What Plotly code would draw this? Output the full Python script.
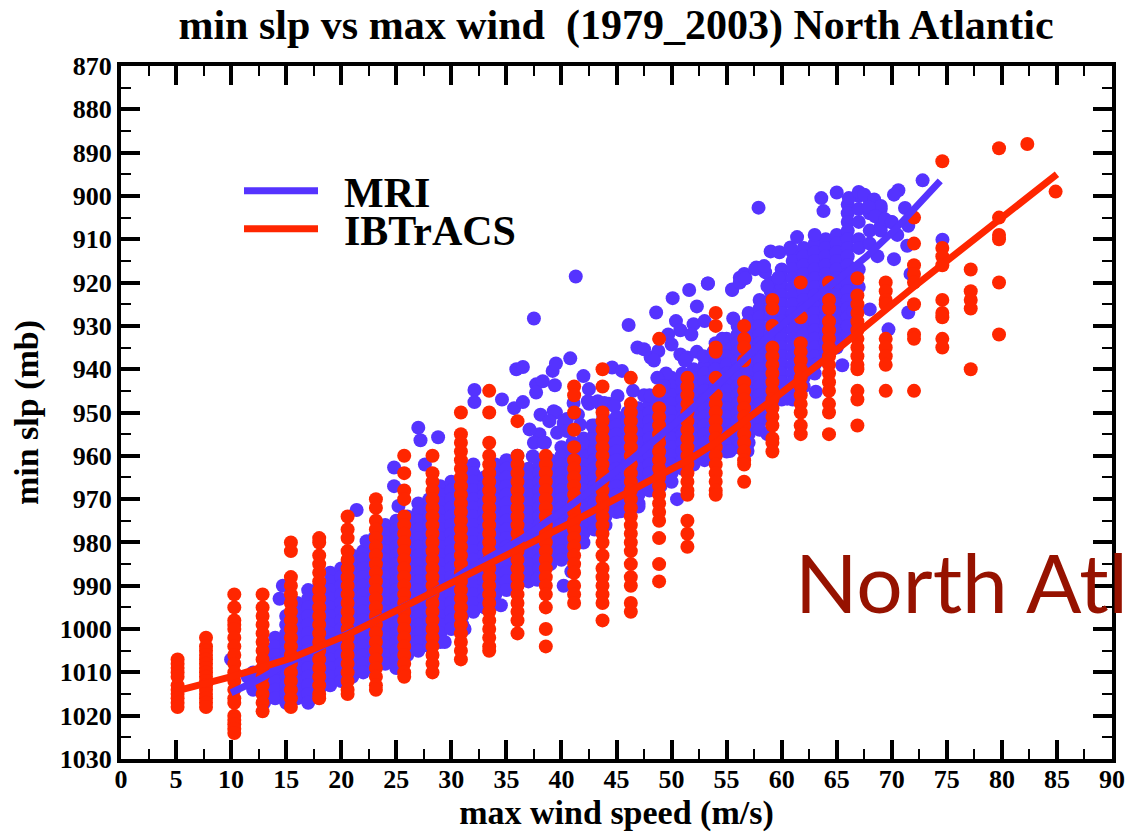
import plotly.graph_objects as go

TITLE = "min slp vs max wind\u00a0\u00a0(1979_2003) North Atlantic"
X_LABEL = "max wind speed (m/s)"
Y_LABEL = "min slp (mb)"
OVERLAY = "North Atl"
BLUE = "#5533FF"
RED = "#FF2600"

MRI_COL_WIND = [12, 13, 14, 15, 16, 17, 18, 19, 20, 21, 22, 23, 24, 25, 26, 27, 28, 29, 30, 31, 32, 33, 34, 35, 36, 37,
                38, 39, 40, 41, 42, 43, 44, 45, 46, 47, 48, 49, 50, 51, 52, 53, 54, 55, 56, 57, 58, 59, 60, 61, 62, 63,
                64, 65, 66, 67, 68, 69, 70]
MRI_COL_SLP = [
    [1010, 1012, 1014],
    [1005, 1007, 1009, 1011, 1013, 1015, 1017],
    [1002, 1004, 1006, 1008, 1010, 1012, 1014, 1016],
    [997, 999, 1001, 1003, 1005, 1007, 1009, 1011, 1013, 1015, 1017],
    [994, 996, 998, 1000, 1002, 1004, 1006, 1008, 1010, 1012, 1014, 1016],
    [991, 993, 995, 997, 999, 1001, 1003, 1005, 1007, 1009, 1011, 1013, 1015, 1017],
    [990, 992, 994, 996, 998, 1000, 1002, 1004, 1006, 1008, 1010, 1012, 1014],
    [987, 989, 991, 993, 995, 997, 999, 1001, 1003, 1005, 1007, 1009, 1011, 1013],
    [986, 988, 990, 992, 994, 996, 998, 1000, 1002, 1004, 1006, 1008, 1010, 1012],
    [983, 985, 987, 989, 991, 993, 995, 997, 999, 1001, 1003, 1005, 1007, 1009, 1011],
    [982, 984, 986, 988, 990, 992, 994, 996, 998, 1000, 1002, 1004, 1006, 1008, 1010],
    [979, 981, 983, 985, 987, 989, 991, 993, 995, 997, 999, 1001, 1003, 1005, 1007, 1009],
    [976, 978, 980, 982, 984, 986, 988, 990, 992, 994, 996, 998, 1000, 1002, 1004, 1006, 1008],
    [975, 977, 979, 981, 983, 985, 987, 989, 991, 993, 995, 997, 999, 1001, 1003, 1005, 1007, 1009],
    [974, 976, 978, 980, 982, 984, 986, 988, 990, 992, 994, 996, 998, 1000, 1002, 1004, 1006],
    [971, 973, 975, 977, 979, 981, 983, 985, 987, 989, 991, 993, 995, 997, 999, 1001, 1003, 1005],
    [970, 972, 974, 976, 978, 980, 982, 984, 986, 988, 990, 992, 994, 996, 998, 1000, 1002, 1004],
    [967, 969, 971, 973, 975, 977, 979, 981, 983, 985, 987, 989, 991, 993, 995, 997, 999, 1001, 1003],
    [966, 968, 970, 972, 974, 976, 978, 980, 982, 984, 986, 988, 990, 992, 994, 996, 998, 1000],
    [963, 965, 967, 969, 971, 973, 975, 977, 979, 981, 983, 985, 987, 989, 991, 993, 995, 997, 999],
    [962, 964, 966, 968, 970, 972, 974, 976, 978, 980, 982, 984, 986, 988, 990, 992, 994, 996],
    [965, 967, 969, 971, 973, 975, 977, 979, 981, 983, 985, 987, 989, 991, 993, 995],
    [962, 964, 966, 968, 970, 972, 974, 976, 978, 980, 982, 984, 986, 988, 990, 992, 994],
    [961, 963, 965, 967, 969, 971, 973, 975, 977, 979, 981, 983, 985, 987, 989, 991],
    [960, 962, 964, 966, 968, 970, 972, 974, 976, 978, 980, 982, 984, 986, 988, 990],
    [963, 965, 967, 969, 971, 973, 975, 977, 979, 981, 983, 985, 987, 989],
    [962, 964, 966, 968, 970, 972, 974, 976, 978, 980, 982, 984, 986, 988],
    [961, 963, 965, 967, 969, 971, 973, 975, 977, 979, 981, 983, 985],
    [958, 960, 962, 964, 966, 968, 970, 972, 974, 976, 978, 980, 982, 984],
    [957, 959, 961, 963, 965, 967, 969, 971, 973, 975, 977, 979, 981, 983],
    [956, 958, 960, 962, 964, 966, 968, 970, 972, 974, 976, 978, 980],
    [953, 955, 957, 959, 961, 963, 965, 967, 969, 971, 973, 975, 977],
    [952, 954, 956, 958, 960, 962, 964, 966, 968, 970, 972, 974, 976],
    [951, 953, 955, 957, 959, 961, 963, 965, 967, 969, 971, 973],
    [950, 952, 954, 956, 958, 960, 962, 964, 966, 968, 970, 972],
    [949, 951, 953, 955, 957, 959, 961, 963, 965, 967, 969, 971],
    [946, 948, 950, 952, 954, 956, 958, 960, 962, 964, 966, 968],
    [945, 947, 949, 951, 953, 955, 957, 959, 961, 963, 965, 967],
    [942, 944, 946, 948, 950, 952, 954, 956, 958, 960, 962, 964, 966],
    [941, 943, 945, 947, 949, 951, 953, 955, 957, 959, 961, 963],
    [940, 942, 944, 946, 948, 950, 952, 954, 956, 958, 960, 962],
    [939, 941, 943, 945, 947, 949, 951, 953, 955, 957, 959, 961],
    [934, 936, 938, 940, 942, 944, 946, 948, 950, 952, 954, 956, 958, 960],
    [933, 935, 937, 939, 941, 943, 945, 947, 949, 951, 953, 955, 957, 959],
    [930, 932, 934, 936, 938, 940, 942, 944, 946, 948, 950, 952, 954, 956, 958],
    [927, 929, 931, 933, 935, 937, 939, 941, 943, 945, 947, 949, 951, 953, 955, 957],
    [924, 926, 928, 930, 932, 934, 936, 938, 940, 942, 944, 946, 948, 950, 952, 954],
    [920, 922, 924, 926, 928, 930, 932, 934, 936, 938, 940, 942, 944, 946, 948, 950, 952],
    [917, 919, 921, 923, 925, 927, 929, 931, 933, 935, 937, 939, 941, 943, 945, 947],
    [913, 915, 917, 919, 921, 923, 925, 927, 929, 931, 933, 935, 937, 939, 941, 943, 945, 947],
    [912, 914, 916, 918, 920, 922, 924, 926, 928, 930, 932, 934, 936, 938, 940, 942, 944],
    [911, 913, 915, 917, 919, 921, 923, 925, 927, 929, 931, 933, 935, 937, 939, 941],
    [910, 912, 914, 916, 918, 920, 922, 924, 926, 928, 930, 932, 934, 936, 938],
    [909, 911, 913, 915, 917, 919, 921, 923, 925, 927, 929, 931, 933, 935],
    [902, 904, 906, 908, 910, 912, 914, 916, 918, 920, 922, 924, 926, 928, 930, 932],
    [900, 903, 906, 910, 912, 917, 921],
    [901, 904, 908, 911],
    [903, 907],
    [906],
]

MRI_LONE_WIND = [10.0, 11.5, 14.7, 14.4, 21.4, 22.3, 24.8, 24.8, 25.2, 27.0, 27.2, 27.6, 28.8, 32.1, 32.1, 34.6, 35.7,
                 36.5, 35.9, 36.5, 39.2, 39.5, 40.8, 37.7, 38.3, 37.7, 39.4, 42.0, 42.5, 41.3, 37.5, 46.1, 48.6, 50.1,
                 51.6, 53.3, 52.3, 50.4, 50.8, 52.0, 51.8, 53.0, 46.9, 47.5, 48.1, 48.8, 48.4, 49.7, 50.0, 50.8, 51.4,
                 52.3, 52.9, 44.6, 45.5, 55.5, 56.2, 56.6, 57.7, 58.5, 55.6, 58.7, 59.7, 57.9, 63.6, 63.8, 65.0, 66.1,
                 67.0, 67.5, 68.4, 69.0, 70.6, 70.2, 72.8, 71.2, 71.5, 70.5, 71.4, 69.0, 68.7, 70.2, 74.6, 71.7, 68.0,
                 71.5, 66.5, 69.7, 66.0, 65.5, 63.1, 60.5, 53.3, 55.5, 56.2, 56.7, 57.6, 58.4, 59.0, 59.8, 60.8, 61.4,
                 63.0, 39.5, 40.5, 41.5, 42.5, 43.5, 44.3, 38.0, 38.5, 40.2, 40.9, 31.2, 29.4, 34.5, 45.4, 47.0, 50.5,
                 55.3, 56.9, 58.7, 37.8, 42.8, 43.8, 46.5, 47.5, 49.5, 51.2, 53.8, 54.6,
                 37.1, 37.5, 37.4, 38.4, 38.1, 39.3, 38.9, 39.6, 40.2, 40.5, 41.7, 41.1, 42.4, 43.3, 43.9, 45.1, 44.8,
                 47.6, 48.7, 49.3, 48.1, 42.8, 41.9, 67.9, 68.5, 69.4, 70.0]
MRI_LONE_SLP = [1007, 1011, 990, 993, 972.5, 979.7, 962.7, 967, 971.6, 953.5, 956.4, 962, 955.7, 944.8, 947.6, 947, 949,
                947.6, 940, 939.5, 940.4, 938.7, 937.5, 943.5, 942.8, 945.4, 943.7, 941.6, 944.6, 918.6, 928.3, 929.8,
                926.9, 923.6, 921.7, 920.2, 925.5, 928.9, 931, 929.6, 932, 928.9, 935, 935.4, 937.3, 935.8, 938, 932,
                934.3, 936.6, 937.3, 936, 937, 939.6, 940.4, 921.6, 918.9, 918, 916.5, 917.6, 928.3, 920.8, 918.9,
                902.7, 900.5, 903.5, 899.2, 900.5, 899.1, 899.7, 900.8, 902.3, 898.7, 899.7, 896.4, 902.8, 906.9, 909,
                911.5, 908, 913.9, 914.6, 910.1, 918, 926.2, 926.9, 926.6, 930.8, 930, 939.1, 945.2, 946.8, 920.2,
                921.7, 920, 919, 916.9, 916.2, 912.8, 913, 911.9, 909.5, 909, 950, 951.5, 950.5, 948, 948, 948, 955,
                957, 990, 986.7, 1000, 1003, 994.5, 972.8, 971.7, 970, 958.9, 958.9, 955, 988.6, 953, 951, 945, 946,
                941, 938, 936, 933,
                953.9, 957, 960.1, 957, 950.5, 949.7, 952, 954.7, 952.4, 954.3, 952.8, 947.8, 947.4, 947.4, 947.8,
                946.2, 948.5, 946.2, 942, 943.9, 946.2, 956.2, 957, 902.6, 904.7, 905.4, 906.1]

IB_COL_WIND = [5.14, 7.72, 10.29, 12.86, 15.43, 18.0, 20.58, 23.15, 25.72, 28.29, 30.87, 33.44, 36.01, 38.58, 41.15,
               43.73, 46.3, 48.87, 51.44, 54.01, 56.59, 59.16, 61.73, 64.3, 66.88, 69.45, 72.02, 74.59, 77.17, 79.74,
               82.31, 84.88]
IB_COL_SLP = [
    [1007, 1008, 1009, 1010, 1011, 1013, 1014, 1015, 1016, 1017, 1018],
    [1002, 1004, 1005, 1006, 1007, 1008, 1009, 1010, 1011, 1012, 1013, 1014, 1015, 1016, 1017, 1018],
    [992, 995, 998, 999, 1000, 1002, 1004, 1006, 1008, 1010, 1012, 1014, 1016, 1017, 1020, 1021, 1022, 1023, 1024],
    [992, 995, 997, 999, 1001, 1003, 1005, 1007, 1009, 1011, 1013, 1015, 1017, 1019],
    [980, 982, 988, 990, 992, 994, 996, 998, 1000, 1002, 1004, 1006, 1008, 1010, 1012, 1014, 1016, 1018],
    [979, 980, 983, 985, 987, 989, 991, 993, 995, 997, 999, 1001, 1003, 1005, 1007, 1009, 1011, 1013, 1015, 1016],
    [974, 977, 979, 982, 984, 986, 988, 990, 992, 994, 996, 998, 1000, 1002, 1004, 1006, 1008, 1010, 1012, 1014, 1015],
    [970, 972, 975, 977, 979, 981, 983, 985, 987, 989, 991, 993, 995, 997, 999, 1001, 1003, 1005, 1007, 1009, 1011,
     1013, 1014],
    [960, 964, 968, 970, 974, 976, 978, 980, 982, 984, 986, 988, 990, 992, 994, 996, 998, 1000, 1002, 1004, 1006,
     1008, 1010, 1011],
    [960, 964, 966, 968, 970, 972, 974, 976, 978, 980, 982, 984, 986, 988, 990, 992, 994, 996, 998, 1000, 1002, 1004,
     1006, 1008, 1010],
    [950, 955, 957, 959, 961, 963, 965, 967, 969, 971, 973, 975, 977, 979, 981, 983, 985, 987, 989, 991, 993, 995,
     997, 999, 1001, 1003, 1005, 1007],
    [945, 950, 957, 960, 962, 964, 966, 968, 970, 972, 974, 976, 978, 980, 982, 984, 986, 988, 990, 992, 994, 996,
     998, 1000, 1002, 1004, 1005],
    [952, 960, 962, 964, 966, 968, 970, 972, 974, 976, 978, 980, 982, 984, 986, 988, 990, 992, 994, 996, 998, 1001],
    [960, 962, 964, 966, 968, 970, 972, 974, 976, 978, 980, 982, 984, 986, 988, 990, 992, 995, 1000, 1004],
    [944, 946, 950, 954, 958, 961, 963, 965, 967, 969, 971, 973, 975, 977, 979, 981, 983, 985, 987, 990, 992, 994],
    [940, 944, 950, 952, 954, 956, 958, 960, 962, 964, 966, 968, 970, 972, 974, 976, 978, 980, 983, 986, 988, 990,
     992, 994, 998],
    [942, 948, 950, 952, 954, 956, 958, 960, 962, 964, 966, 968, 970, 972, 974, 976, 978, 980, 982, 985, 988, 990,
     994, 996],
    [933, 945, 949, 951, 953, 955, 957, 959, 961, 963, 965, 967, 969, 971, 973, 975, 979, 985, 989],
    [942, 944, 946, 948, 950, 952, 954, 956, 958, 960, 962, 964, 966, 968, 969, 975, 978, 981],
    [927, 930, 935, 936, 942, 946, 948, 950, 952, 954, 956, 958, 960, 962, 964, 966, 968, 969],
    [930, 933, 935, 938, 943, 945, 947, 949, 951, 953, 955, 957, 959, 961, 962, 966],
    [924, 926, 930, 935, 937, 939, 941, 943, 945, 947, 949, 951, 953, 956, 957, 959],
    [920, 928, 934, 936, 938, 940, 942, 944, 946, 948, 950, 953, 955],
    [920, 924, 926, 929, 931, 933, 935, 937, 939, 941, 943, 945, 948, 950, 955],
    [919, 923, 925, 927, 929, 931, 933, 935, 937, 939, 940, 945, 947, 953],
    [920, 922, 924, 925, 933, 935, 937, 939, 945],
    [905, 911, 916, 918, 920, 925, 932, 933, 945],
    [892, 912, 914, 916, 924, 927, 928, 933, 935],
    [917, 922, 924, 926, 940],
    [889, 905, 909, 910, 920, 932],
    [888],
    [899],
]

MRI_FIT_WIND = [10, 12.8, 15, 23, 28.3, 31.5, 36.2, 41.1, 46.3, 51.5, 56.6, 59.2, 67.7, 70.2, 74.4]
MRI_FIT_SLP = [1014.7, 1011.3, 1008, 998.2, 991.6, 986.3, 979.5, 971, 961, 950, 938, 931.5, 914, 908, 896.5]
IB_FIT_WIND = [5.5, 10.3, 15.5, 20.6, 25.4, 30.9, 41.2, 51.5, 54, 59.2, 64.3, 72, 79.8, 85]
IB_FIT_SLP = [1014, 1010.8, 1006.7, 1001.3, 995.2, 988.2, 975, 961, 957, 947, 937, 921, 905.4, 895]

X_TICKS = [0, 5, 10, 15, 20, 25, 30, 35, 40, 45, 50, 55, 60, 65, 70, 75, 80, 85, 90]
Y_TICKS = [870, 880, 890, 900, 910, 920, 930, 940, 950, 960, 970, 980, 990, 1000, 1010, 1020, 1030]


def flatten(winds, columns):
    xs, ys = [], []
    for w, col in zip(winds, columns):
        for p in col:
            xs.append(w)
            ys.append(p)
    return xs, ys


mx, my = flatten(MRI_COL_WIND, MRI_COL_SLP)
ix, iy = flatten(IB_COL_WIND, IB_COL_SLP)
serif = "Liberation Serif"
marker_size = 14
L, R, T, B = 121, 18, 66, 76
PW, PH = 1130 - L - R, 835 - T - B

fig = go.Figure()
fig.add_trace(go.Scatter(x=mx + MRI_LONE_WIND, y=my + MRI_LONE_SLP, mode="markers", showlegend=False,
                         marker=dict(color=BLUE, size=marker_size), cliponaxis=False))
fig.add_trace(go.Scatter(x=ix, y=iy, mode="markers", showlegend=False,
                         marker=dict(color=RED, size=marker_size), cliponaxis=False))
fig.add_trace(go.Scatter(x=MRI_FIT_WIND, y=MRI_FIT_SLP, mode="lines", name="\u00a0\u00a0MRI", legend="legend",
                         line=dict(color=BLUE, width=7)))
fig.add_trace(go.Scatter(x=IB_FIT_WIND, y=IB_FIT_SLP, mode="lines", name="\u00a0\u00a0IBTrACS", legend="legend2",
                         line=dict(color=RED, width=7)))

axis_common = dict(automargin=False, showgrid=False, zeroline=False, showline=True, linecolor="black", linewidth=4,
                   mirror="ticks", ticks="inside", ticklen=19, tickwidth=4, tickcolor="black",
                   tickfont=dict(family=serif, size=26, color="black", weight=700))
fig.update_xaxes(range=[0, 90], tickmode="array", tickvals=X_TICKS, ticklabelstandoff=-6,
                 title=dict(text=X_LABEL, standoff=6, font=dict(family=serif, size=34, color="black", weight=700)),
                 minor=dict(ticks="inside", ticklen=10, tickwidth=1.5, tickcolor="black", dtick=2.5, tick0=0),
                 **axis_common)
fig.update_yaxes(range=[1030, 870], tickmode="array", tickvals=Y_TICKS,
                 title=dict(text=Y_LABEL, standoff=12, font=dict(family=serif, size=34, color="black", weight=700)),
                 minor=dict(ticks="inside", ticklen=10, tickwidth=1.5, tickcolor="black", dtick=5, tick0=870),
                 **axis_common)
leg = dict(xanchor="left", yanchor="middle", bgcolor="rgba(0,0,0,0)", itemwidth=74,
           font=dict(family=serif, size=42, color="black", weight=700))
fig.update_layout(
    width=1130, height=835, paper_bgcolor="white", plot_bgcolor="white",
    margin=dict(l=L, r=R, t=T, b=B),
    title=dict(text=TITLE, x=616 / 1130, xanchor="center", y=1 - 24 / 835, yanchor="middle",
               font=dict(family=serif, size=42, color="black", weight=700)),
    legend=dict(x=(239 - L) / PW, y=1 - (191 - T) / PH, **leg),
    legend2=dict(x=(239 - L) / PW, y=1 - (229 - T) / PH, **leg),
    annotations=[dict(text=OVERLAY, xref="paper", yref="paper", x=(793 - L) / PW,
                      y=1 - (581 - T) / PH, xanchor="left", yanchor="middle", showarrow=False,
                      font=dict(family="Lato", size=82, color="#961200"))],
)
fig.write_html("out.html", config={"displayModeBar": False}, post_script='document.body.style.margin="0";')
